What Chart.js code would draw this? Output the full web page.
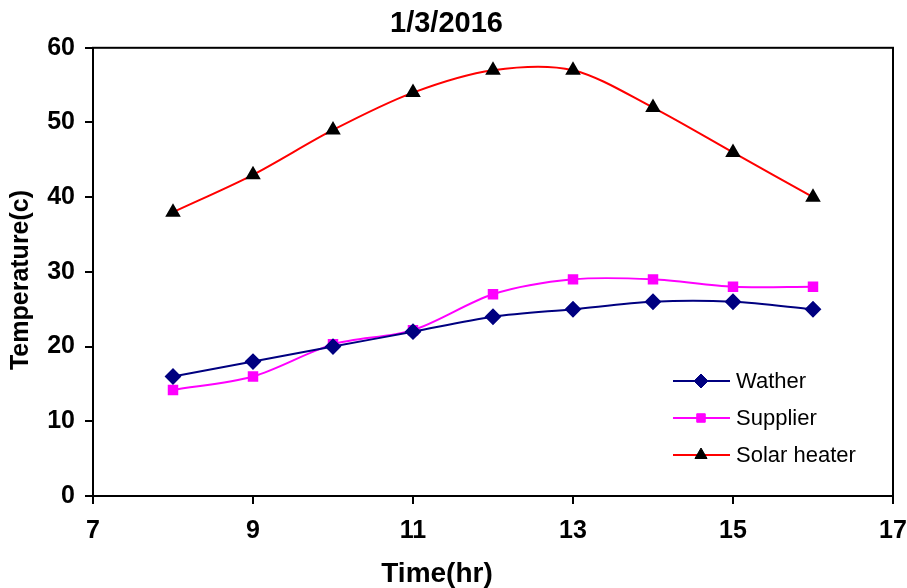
<!DOCTYPE html>
<html>
<head>
<meta charset="utf-8">
<script src="https://cdn.jsdelivr.net/npm/chart.js@4.4.0/dist/chart.umd.min.js"></script>
<style>
    body {
        margin: 0;
        background: #fff;
    }
    #wrap {
        width: 907px;
        height: 588px;
    }
</style>
</head>
<body>
<div id="wrap"><canvas id="tempChart" width="907" height="588"></canvas></div>
<script>
const hours = [8, 9, 10, 11, 12, 13, 14, 15, 16];
const watherTemps = [16, 18, 20, 22, 24, 25, 26, 26, 25];
const supplierTemps = [14.2, 16, 20.3, 22.2, 27, 29, 29, 28, 28];
const solarTemps = [38, 43, 49, 54, 57, 57, 52, 46, 40];
const seriesNames = ['Wather', 'Supplier', 'Solar heater'];
const xRange = [7, 17];
const yRange = [0, 60];

const FONT = 'Arial, "Liberation Sans", sans-serif';
const toPoints = (ys) => hours.map((h, i) => ({ x: h, y: ys[i] }));

// box around the plot + axis titles
const framePlugin = {
    id: 'frame',
    afterDraw(chart) {
        const { ctx, chartArea: a } = chart;
        ctx.save();
        ctx.strokeStyle = '#000';
        ctx.lineWidth = 2;
        ctx.strokeRect(a.left, a.top, a.right - a.left, a.bottom - a.top);

        ctx.fillStyle = '#000';
        ctx.textAlign = 'center';
        ctx.textBaseline = 'middle';
        ctx.font = 'bold 28px ' + FONT;
        ctx.fillText('Time(hr)', 437, 574);

        ctx.translate(21, 280);
        ctx.rotate(-Math.PI / 2);
        ctx.font = 'bold 25px ' + FONT;
        ctx.fillText('Temperature(c)', 0, 0);
        ctx.restore();
    }
};

// legend inside the plot, lower right
const insideLegend = {
    id: 'insideLegend',
    afterDraw(chart) {
        const { ctx } = chart;
        const rowY = [381, 418, 455];
        ctx.save();
        chart.data.datasets.forEach((ds, i) => {
            const y = rowY[i];
            ctx.strokeStyle = ds.borderColor;
            ctx.lineWidth = 2;
            ctx.beginPath();
            ctx.moveTo(673, y);
            ctx.lineTo(730, y);
            ctx.stroke();
            ctx.fillStyle = ds.pointBackgroundColor;
            ctx.strokeStyle = ds.pointBorderColor;
            ctx.lineWidth = 1;
            Chart.helpers.drawPoint(ctx, {
                pointStyle: ds.pointStyle,
                radius: ds.pointRadius,
                rotation: 0,
                borderWidth: 1
            }, 701, y);
            ctx.fillStyle = '#000';
            ctx.font = '22px ' + FONT;
            ctx.textAlign = 'left';
            ctx.textBaseline = 'middle';
            ctx.fillText(ds.label, 736, y + 1);
        });
        ctx.restore();
    }
};

new Chart(document.getElementById('tempChart').getContext('2d'), {
    type: 'line',
    data: {
        datasets: [{
            label: seriesNames[0],
            data: toPoints(watherTemps),
            borderColor: '#000080',
            backgroundColor: '#000080',
            pointStyle: 'rectRot',
            pointRadius: 7,
            pointBorderColor: '#000080',
            pointBackgroundColor: '#000080',
            borderWidth: 2,
            tension: 0.3
        }, {
            label: seriesNames[1],
            data: toPoints(supplierTemps),
            borderColor: '#ff00ff',
            backgroundColor: '#ff00ff',
            pointStyle: 'rect',
            pointRadius: 6,
            pointBorderColor: '#ff00ff',
            pointBackgroundColor: '#ff00ff',
            borderWidth: 2,
            tension: 0.3
        }, {
            label: seriesNames[2],
            data: toPoints(solarTemps),
            borderColor: '#ff0000',
            backgroundColor: '#000',
            pointStyle: 'triangle',
            pointRadius: 7,
            pointBorderColor: '#000',
            pointBackgroundColor: '#000',
            borderWidth: 2,
            tension: 0.3
        }]
    },
    options: {
        responsive: false,
        animation: false,
        layout: {
            padding: { top: 0, right: 14, left: 0, bottom: 0 }
        },
        plugins: {
            legend: { display: false },
            tooltip: { enabled: false },
            title: {
                display: true,
                text: '1/3/2016',
                color: '#000',
                font: { family: FONT, size: 29, weight: 'bold' },
                padding: { top: 7, bottom: 6 }
            }
        },
        scales: {
            x: {
                type: 'linear',
                min: xRange[0],
                max: xRange[1],
                border: { display: true, color: '#000', width: 2 },
                grid: { display: true, drawOnChartArea: false, color: '#000', tickLength: 8, lineWidth: 2 },
                ticks: {
                    stepSize: 2,
                    color: '#000',
                    padding: 12,
                    font: { family: FONT, size: 25, weight: 'bold' }
                },
                afterFit(scale) {
                    scale.height = 92;
                    scale.paddingRight = 0;
                    scale.paddingLeft = 0;
                }
            },
            y: {
                min: yRange[0],
                max: yRange[1],
                border: { display: true, color: '#000', width: 2 },
                grid: { display: true, drawOnChartArea: false, color: '#000', tickLength: 8, lineWidth: 2 },
                ticks: {
                    stepSize: 10,
                    color: '#000',
                    padding: 10,
                    font: { family: FONT, size: 25, weight: 'bold' }
                },
                afterFit(scale) { scale.width = 93; }
            }
        }
    },
    plugins: [framePlugin, insideLegend]
});
</script>
</body>
</html>
